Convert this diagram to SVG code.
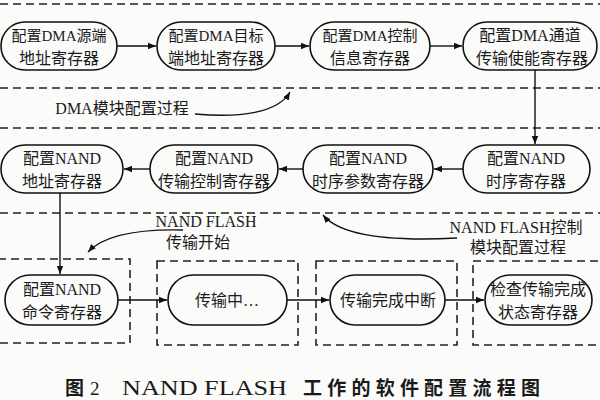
<svg xmlns="http://www.w3.org/2000/svg" width="600" height="400" viewBox="0 0 600 400">
<style>
.bg{fill:#fbfbfa}
.sep{stroke:#222;stroke-width:1.6;stroke-dasharray:8 5;fill:none}
.node rect{fill:none;stroke:#111;stroke-width:1.6}
.node text, .lbl{font-family:"Liberation Serif","Noto Sans CJK SC",serif;font-size:16px;fill:#1a1a1a;text-anchor:middle}
.conn path, .conn line{stroke:#111;stroke-width:1.4;fill:none}
.arr{marker-end:url(#ah)}
.cap{font-family:"Liberation Serif","Noto Sans CJK SC",serif;font-size:19px;fill:#1a1a1a;font-weight:bold}
</style>
<defs>
<marker id="ah" viewBox="0 0 10 10" refX="10" refY="5" markerWidth="8" markerHeight="8" markerUnits="userSpaceOnUse" orient="auto">
<path d="M0,1 L10,5 L0,9 Z" fill="#111"/>
</marker>
</defs>
<rect class="bg" x="0" y="0" width="600" height="400"/>
<g id="separators">
<line class="sep" x1="0" y1="4" x2="600" y2="4"/>
<line class="sep" x1="0" y1="88" x2="600" y2="88"/>
<line class="sep" x1="0" y1="128" x2="600" y2="128"/>
<line class="sep" x1="0" y1="213" x2="600" y2="213"/>
<rect class="sep" x="-2" y="259" width="132" height="84"/>
<rect class="sep" x="157" y="261" width="141" height="84"/>
<rect class="sep" x="316" y="261" width="141" height="84"/>
<rect class="sep" x="473" y="261" width="130" height="84"/>
</g>
<g id="n1" class="node"><rect x="1" y="22" width="116" height="48" rx="24"/><text x="59" y="41" style="font-size:15px">配置DMA源端</text><text x="59" y="64">地址寄存器</text></g>
<g id="n2" class="node"><rect x="157" y="22" width="118" height="48" rx="24"/><text x="216" y="41" style="font-size:15px">配置DMA目标</text><text x="216" y="64">端地址寄存器</text></g>
<g id="n3" class="node"><rect x="310" y="22" width="120" height="48" rx="24"/><text x="370" y="41" style="font-size:15px">配置DMA控制</text><text x="370" y="64">信息寄存器</text></g>
<g id="n4" class="node"><rect x="463" y="22" width="134" height="48" rx="24"/><text x="530" y="41">配置DMA通道</text><text x="532" y="64">传输使能寄存器</text></g>
<g id="n5" class="node"><rect x="463" y="145" width="127" height="48" rx="24"/><text x="526" y="164">配置NAND</text><text x="526" y="187">时序寄存器</text></g>
<g id="n6" class="node"><rect x="303" y="145" width="130" height="48" rx="24"/><text x="368" y="164">配置NAND</text><text x="368" y="187">时序参数寄存器</text></g>
<g id="n7" class="node"><rect x="150" y="145" width="128" height="48" rx="24"/><text x="214" y="164">配置NAND</text><text x="214" y="187">传输控制寄存器</text></g>
<g id="n8" class="node"><rect x="1" y="145" width="122" height="48" rx="24"/><text x="62" y="164">配置NAND</text><text x="62" y="187">地址寄存器</text></g>
<g id="n9" class="node"><rect x="5" y="275" width="113" height="50" rx="25"/><text x="62" y="295">配置NAND</text><text x="62" y="318">命令寄存器</text></g>
<g id="n10" class="node"><rect x="168" y="275" width="119" height="50" rx="25"/><text x="227" y="306">传输中…</text></g>
<g id="n11" class="node"><rect x="330" y="275" width="115" height="50" rx="25"/><text x="388" y="306">传输完成中断</text></g>
<g id="n12" class="node"><rect x="485" y="275" width="107" height="50" rx="25"/><text x="538" y="295">检查传输完成</text><text x="538" y="318">状态寄存器</text></g>
<g id="connectors" class="conn">
<line class="arr" x1="117" y1="46" x2="156" y2="46"/>
<line class="arr" x1="275" y1="46" x2="309" y2="46"/>
<line class="arr" x1="430" y1="46" x2="462" y2="46"/>
<line class="arr" x1="535" y1="70" x2="535" y2="144"/>
<line class="arr" x1="463" y1="169" x2="434" y2="169"/>
<line class="arr" x1="303" y1="169" x2="279" y2="169"/>
<line class="arr" x1="150" y1="169" x2="124" y2="169"/>
<line class="arr" x1="60" y1="193" x2="60" y2="274"/>
<line class="arr" x1="118" y1="300" x2="167" y2="300"/>
<line class="arr" x1="287" y1="300" x2="329" y2="300"/>
<line class="arr" x1="445" y1="300" x2="484" y2="300"/>
<path class="arr" d="M195 114 C240 118 278 113 290 92"/>
<path class="arr" d="M183 230 C140 229 104 235 88 252"/>
<path class="arr" d="M457 238 C400 241 342 238 323 215"/>
</g>
<g id="labels">
<text class="lbl" x="122" y="114">DMA模块配置过程</text>
<text class="lbl" x="206" y="227">NAND FLASH</text>
<text class="lbl" x="198" y="248">传输开始</text>
<text class="lbl" x="516" y="233">NAND FLASH控制</text>
<text class="lbl" x="518" y="253">模块配置过程</text>
</g>
<g id="caption">
<text class="cap" x="65" y="395">图</text>
<text class="cap" x="90" y="395" style="font-weight:normal">2</text>
<text class="cap" x="122" y="395" textLength="165" lengthAdjust="spacingAndGlyphs" style="font-weight:normal;font-size:20px">NAND FLASH</text>
<text class="cap" x="303" y="395" textLength="237" lengthAdjust="spacing">工作的软件配置流程图</text>
</g>
</svg>
